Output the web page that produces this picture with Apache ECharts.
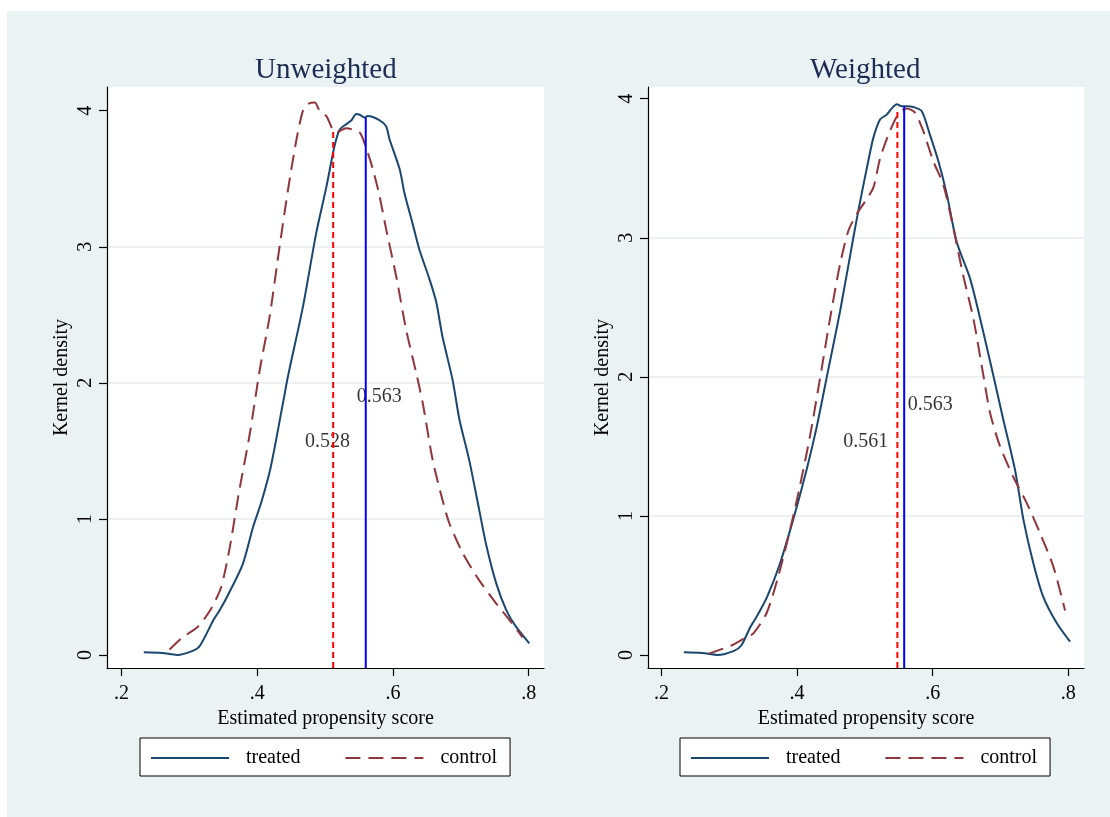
<!DOCTYPE html>
<html>
<head>
<meta charset="utf-8" />
<title>Kernel density of propensity score</title>
<script src="https://cdn.jsdelivr.net/npm/echarts@6/dist/echarts.min.js"></script>
<style>
  html, body { margin: 0; padding: 0; background: #fff; }
  #main { width: 1110px; height: 817px; }
</style>
</head>
<body>
<div id="main"></div>
<script>
const xTicks = [0.2, 0.4, 0.6, 0.8];
const yTicks = [0, 1, 2, 3, 4];
const legendNames = ["treated", "control"];
const panelTitles = ["Unweighted", "Weighted"];

// [score, density]
const unwTreated = [
  [0.233, 0.02], [0.26, 0.015], [0.282, 0.0], [0.305, 0.03], [0.316, 0.07], [0.336, 0.26],
  [0.345, 0.33], [0.358, 0.45], [0.379, 0.67], [0.394, 0.94], [0.406, 1.12], [0.42, 1.38],
  [0.438, 1.85], [0.4455, 2.05], [0.4675, 2.56], [0.487, 3.1], [0.502, 3.44], [0.514, 3.74],
  [0.5215, 3.86], [0.531, 3.9], [0.539, 3.93], [0.546, 3.975], [0.551, 3.97], [0.558, 3.95],
  [0.563, 3.96], [0.58, 3.93], [0.59, 3.885], [0.595, 3.79], [0.61, 3.57], [0.617, 3.395],
  [0.629, 3.17], [0.639, 2.98], [0.654, 2.76], [0.664, 2.59], [0.673, 2.34], [0.688, 2.02],
  [0.698, 1.73], [0.7125, 1.43], [0.727, 1.07], [0.737, 0.82], [0.752, 0.53], [0.767, 0.33],
  [0.781, 0.21], [0.801, 0.086]
];
const unwControl = [
  [0.271, 0.04], [0.289, 0.125], [0.313, 0.21], [0.331, 0.33], [0.347, 0.5], [0.36, 0.8],
  [0.373, 1.19], [0.389, 1.62], [0.404, 2.1], [0.4185, 2.49], [0.433, 3.0], [0.4455, 3.42],
  [0.458, 3.79], [0.4675, 4.0], [0.475, 4.05], [0.485, 4.06], [0.492, 4.0], [0.502, 3.96],
  [0.5115, 3.86], [0.5166, 3.84], [0.531, 3.87], [0.551, 3.84], [0.561, 3.72], [0.5705, 3.57],
  [0.58, 3.38], [0.59, 3.13], [0.605, 2.78], [0.6195, 2.39], [0.634, 2.08], [0.644, 1.85],
  [0.6587, 1.43], [0.673, 1.14], [0.683, 0.97], [0.7028, 0.75], [0.727, 0.55], [0.752, 0.38],
  [0.776, 0.23], [0.791, 0.13]
];
const wTreated = [
  [0.233, 0.02], [0.26, 0.015], [0.283, 0.0], [0.307, 0.03], [0.318, 0.07], [0.331, 0.2],
  [0.341, 0.28], [0.356, 0.42], [0.375, 0.66], [0.397, 1.02], [0.414, 1.33], [0.429, 1.64],
  [0.446, 2.05], [0.4634, 2.47], [0.483, 3.0], [0.493, 3.26], [0.505, 3.55], [0.5126, 3.72],
  [0.5224, 3.85], [0.532, 3.885], [0.5397, 3.93], [0.547, 3.96], [0.5544, 3.945], [0.5618, 3.945],
  [0.5716, 3.94], [0.584, 3.91], [0.596, 3.74], [0.6085, 3.55], [0.621, 3.31], [0.6355, 2.97],
  [0.655, 2.71], [0.67, 2.42], [0.6895, 2.01], [0.7043, 1.69], [0.7215, 1.33], [0.734, 0.97],
  [0.7485, 0.66], [0.763, 0.42], [0.783, 0.23], [0.8026, 0.096]
];
const wControl = [
  [0.27, 0.01], [0.304, 0.07], [0.322, 0.12], [0.3356, 0.156], [0.355, 0.3], [0.372, 0.56],
  [0.3897, 0.9], [0.404, 1.21], [0.419, 1.57], [0.436, 2.05], [0.4487, 2.42], [0.4634, 2.81],
  [0.4757, 3.05], [0.488, 3.17], [0.5003, 3.26], [0.5125, 3.36], [0.5224, 3.57], [0.5347, 3.74],
  [0.547, 3.87], [0.5568, 3.92], [0.5618, 3.93], [0.574, 3.9], [0.5863, 3.765], [0.601, 3.55],
  [0.6158, 3.38], [0.6305, 3.07], [0.645, 2.73], [0.66, 2.42], [0.6748, 2.01], [0.6847, 1.74],
  [0.6994, 1.5], [0.719, 1.28], [0.739, 1.09], [0.7585, 0.875], [0.778, 0.635], [0.7953, 0.32]
];

// mean lines: [score, height where the line stops]
const unwControlMean = [0.512, 3.85];
const unwTreatedMean = [0.56, 3.95];
const wControlMean = [0.548, 3.935];
const wTreatedMean = [0.558, 3.945];

// text labels: [score, density, text]
const unwLabels = [[0.58, 1.9, "0.563"], [0.5035, 1.57, "0.528"]];
const wLabels = [[0.5966, 1.8, "0.563"], [0.5015, 1.53, "0.561"]];

const serif = "'Times New Roman', 'Liberation Serif', serif";
const navy = "#1a476f";
const maroon = "#90353b";

const panels = [
  {
    title: panelTitles[0], titleLeft: 255, left: 107, width: 437,
    xMin: 0.1788, xMax: 0.8226, yMin: -0.0956, yMax: 4.174,
    treated: unwTreated, control: unwControl,
    controlMean: unwControlMean, treatedMean: unwTreatedMean, labels: unwLabels,
    legendLeft: 140,
  },
  {
    title: panelTitles[1], titleLeft: 810, left: 648, width: 436,
    xMin: 0.1802, xMax: 0.8232, yMin: -0.0935, yMax: 4.084,
    treated: wTreated, control: wControl,
    controlMean: wControlMean, treatedMean: wTreatedMean, labels: wLabels,
    legendLeft: 680,
  },
];

const option = {
  backgroundColor: "#eaf2f3",
  animation: false,
  graphic: [
    { type: "rect", left: 0, top: 0, shape: { width: 1110, height: 11 }, style: { fill: "#fff" } },
    { type: "rect", left: 0, top: 0, shape: { width: 7, height: 817 }, style: { fill: "#fff" } },
  ],
  title: [],
  legend: [],
  grid: [],
  xAxis: [],
  yAxis: [],
  series: [],
};

panels.forEach((p, i) => {
  option.title.push({
    text: p.title,
    left: p.titleLeft,
    top: 56,
    padding: 0,
    textStyle: { fontFamily: serif, fontSize: 29, fontWeight: "normal", color: "#1c2d55" },
  });
  option.legend.push({
    data: legendNames,
    left: p.legendLeft,
    top: 738,
    orient: "horizontal",
    padding: [10, 13, 8, 10],
    itemGap: 44,
    itemWidth: 78,
    itemHeight: 20,
    backgroundColor: "#fff",
    borderColor: "#000",
    borderWidth: 1,
    borderRadius: 0,
    selectedMode: false,
    // only the line sample, no marker
    itemStyle: { opacity: 0 },
    textStyle: { fontFamily: serif, fontSize: 20, color: "#000", padding: [0, 0, 0, 12] },
  });
  option.grid.push({
    left: p.left,
    top: 87,
    width: p.width,
    height: 581,
    show: true,
    backgroundColor: "#fff",
    borderWidth: 0,
  });
  option.xAxis.push({
    gridIndex: i,
    type: "value",
    min: p.xMin,
    max: p.xMax,
    splitNumber: 3,
    name: "Estimated propensity score",
    nameLocation: "middle",
    nameGap: 36,
    nameTextStyle: { fontFamily: serif, fontSize: 20, color: "#000" },
    axisLine: { show: true, onZero: false, lineStyle: { color: "#000", width: 1.2 } },
    axisTick: { show: true, length: 8, customValues: xTicks, lineStyle: { color: "#000", width: 1.2 } },
    axisLabel: {
      customValues: xTicks,
      margin: 16,
      fontFamily: serif,
      fontSize: 20,
      color: "#000",
      formatter: (v) => String(v).replace("0.", "."),
    },
    splitLine: { show: false },
  });
  option.yAxis.push({
    gridIndex: i,
    type: "value",
    min: p.yMin,
    max: p.yMax,
    splitNumber: 4,
    name: "Kernel density",
    nameLocation: "middle",
    nameGap: 35,
    nameTextStyle: { fontFamily: serif, fontSize: 20, color: "#000" },
    axisLine: { show: true, onZero: false, lineStyle: { color: "#000", width: 1.2 } },
    axisTick: { show: true, length: 8, customValues: yTicks, lineStyle: { color: "#000", width: 1.2 } },
    axisLabel: { customValues: yTicks, rotate: 90, margin: 11, fontFamily: serif, fontSize: 20, color: "#000" },
    splitLine: {
      show: true,
      showMinLine: false,
      showMaxLine: false,
      lineStyle: { color: "#e6eef1", width: 1.5 },
    },
  });

  option.series.push(
    {
      name: "treated",
      type: "line",
      xAxisIndex: i,
      yAxisIndex: i,
      data: p.treated,
      symbol: "none",
      smooth: 0.25,
      silent: true,
      itemStyle: { color: navy },
      lineStyle: { color: navy, width: 2 },
    },
    {
      name: "control",
      type: "line",
      xAxisIndex: i,
      yAxisIndex: i,
      data: p.control,
      symbol: "none",
      smooth: 0.25,
      silent: true,
      itemStyle: { color: maroon },
      lineStyle: { color: maroon, width: 2, type: [15, 8] },
    },
    {
      name: "control mean",
      type: "line",
      xAxisIndex: i,
      yAxisIndex: i,
      data: [[p.controlMean[0], p.yMin], p.controlMean],
      symbol: "none",
      silent: true,
      lineStyle: { color: "#ff0000", width: 2, type: [6, 4] },
    },
    {
      name: "treated mean",
      type: "line",
      xAxisIndex: i,
      yAxisIndex: i,
      data: [[p.treatedMean[0], p.yMin], p.treatedMean],
      symbol: "none",
      silent: true,
      lineStyle: { color: "#0000ff", width: 2 },
    },
    {
      name: "mean labels",
      type: "scatter",
      xAxisIndex: i,
      yAxisIndex: i,
      data: p.labels,
      symbolSize: 0,
      silent: true,
      label: {
        show: true,
        position: "inside",
        formatter: (d) => d.data[2],
        fontFamily: serif,
        fontSize: 20,
        color: "#000",
      },
    }
  );
});

const chart = echarts.init(document.getElementById("main"), null, { renderer: "canvas" });
chart.setOption(option);
</script>
</body>
</html>
